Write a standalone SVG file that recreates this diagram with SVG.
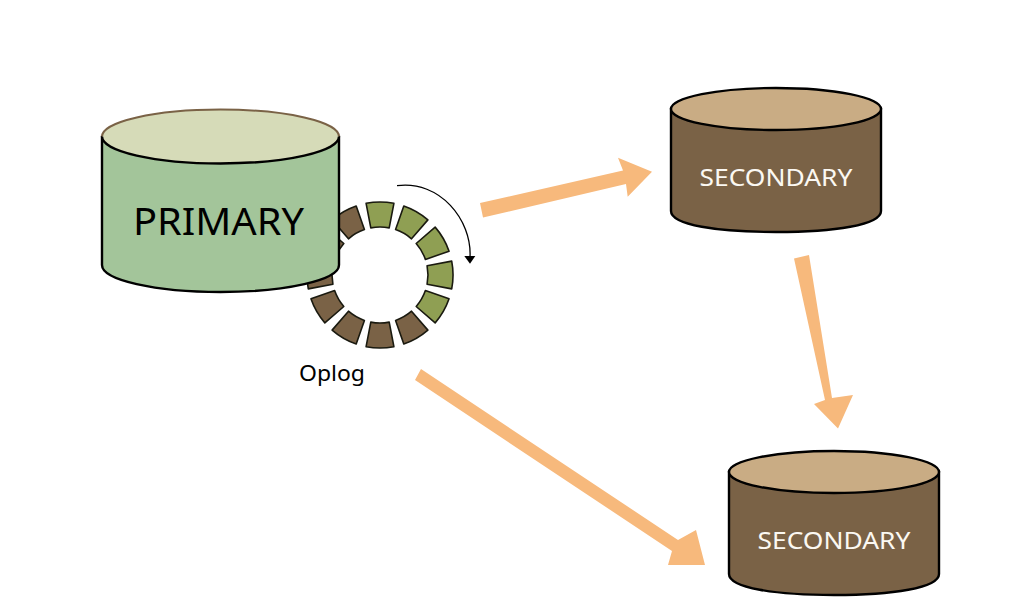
<svg xmlns="http://www.w3.org/2000/svg" width="1024" height="606" viewBox="0 0 1024 606">
  <style>
    text { font-family: "Noto Sans", "Open Sans", sans-serif; text-anchor: middle; }
    .wall { stroke: #000; stroke-width: 2.4; }
    .lid { stroke: #000; stroke-width: 2.4; }
    .brown { fill: #7A6246; }
    .tan { fill: #C9AC84; }
    .seg { stroke: #1a1a10; stroke-width: 1.6; stroke-linejoin: round; }
    .olive { fill: #8F9F53; }
    .umber { fill: #7A6246; }
    .flow { fill: #F7B97C; }
    .label-light { fill: #FBF8F2; font-size: 24px; }
  </style>
  <defs>
    <path id="segment" d="M-9.2,-47.1 L-13.9,-71.7 A73 73 0 0 1 13.9,-71.7 L9.2,-47.1 A48 48 0 0 0 -9.2,-47.1 Z"/>
    <g id="store">
      <path class="wall brown" d="M-105,0 V102 C-105,116 -58,123 0,123 C58,123 105,116 105,102 V0 Z"/>
      <ellipse class="lid tan" cx="0" cy="0" rx="105" ry="21"/>
    </g>
  </defs>

  <g id="oplog-ring" transform="translate(380 275)">
    <use href="#segment" class="seg olive"/>
    <use href="#segment" class="seg olive" transform="rotate(30)"/>
    <use href="#segment" class="seg olive" transform="rotate(60)"/>
    <use href="#segment" class="seg olive" transform="rotate(90)"/>
    <use href="#segment" class="seg olive" transform="rotate(120)"/>
    <use href="#segment" class="seg umber" transform="rotate(150)"/>
    <use href="#segment" class="seg umber" transform="rotate(180)"/>
    <use href="#segment" class="seg umber" transform="rotate(210)"/>
    <use href="#segment" class="seg umber" transform="rotate(240)"/>
    <use href="#segment" class="seg umber" transform="rotate(270)"/>
    <use href="#segment" class="seg umber" transform="rotate(300)"/>
    <use href="#segment" class="seg umber" transform="rotate(330)"/>
  </g>

  <g id="primary">
    <path d="M102,137 V265 C102,280 155,292 220.500,292 C286,292 339,280 339,265 V137 Z" fill="#A3C59A" stroke="#000" stroke-width="2.400"/>
    <ellipse cx="220.500" cy="136.500" rx="118.500" ry="27" fill="#D6DBB8"/>
    <path d="M102,136.500 A118.500 27 0 0 1 339,136.500" fill="none" stroke="#7A6246" stroke-width="2"/>
    <path d="M102,136.500 A118.500 27 0 0 0 339,136.500" fill="none" stroke="#000" stroke-width="2.400"/>
    <text x="218.500" y="235" font-size="38" fill="#000" textLength="171" lengthAdjust="spacingAndGlyphs">PRIMARY</text>
  </g>

  <g id="secondary-a">
    <use href="#store" transform="translate(776 109)"/>
    <text class="label-light" x="776" y="186" textLength="153" lengthAdjust="spacingAndGlyphs">SECONDARY</text>
  </g>

  <g id="secondary-b">
    <use href="#store" transform="translate(834 472)"/>
    <text class="label-light" x="834" y="549" textLength="153" lengthAdjust="spacingAndGlyphs">SECONDARY</text>
  </g>

  <g id="oplog-label">
    <text x="332" y="381" font-size="22" fill="#000" textLength="66" lengthAdjust="spacingAndGlyphs">Oplog</text>
  </g>

  <g id="connectors">
    <polygon class="flow" points="480,203 623,170.500 618,157.700 652,171.700 627.700,196.700 626,184 483,217.500"/>
    <polygon class="flow" points="794,258.500 809,255 832,398 853,395 838,428.500 814,404 825,400"/>
    <polygon class="flow" points="421,369 678,540 696,530 705,565 668,565 672,551 415,380"/>
    <path d="M397,185.700 C440,180 472,220 470,257" fill="none" stroke="#000" stroke-width="1.300"/>
    <polygon points="464.300,256 475.300,256 470,263.700" fill="#000"/>
  </g>
</svg>
